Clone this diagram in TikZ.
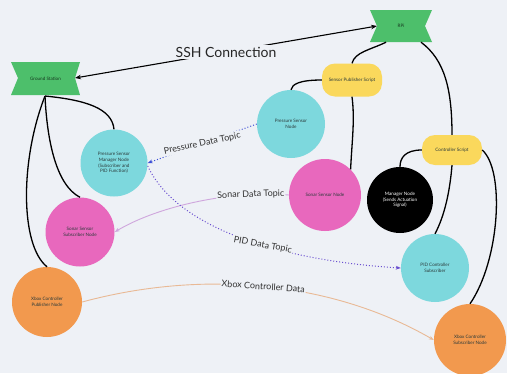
\documentclass[tikz,border=0pt]{standalone}
\usepackage{fontspec}
\setmainfont{Lato}
\usetikzlibrary{arrows.meta}
\definecolor{bg}{HTML}{EEF1F6}
\definecolor{bgreen}{HTML}{4DBF6B}
\definecolor{ccyan}{HTML}{7DD8DD}
\definecolor{cpink}{HTML}{E868BD}
\definecolor{corange}{HTML}{F2994E}
\definecolor{cyellow}{HTML}{FAD85C}
\definecolor{tblue}{HTML}{3C4FD6}
\definecolor{tlilac}{HTML}{CFA6DD}
\definecolor{tpurple}{HTML}{6A4FD0}
\definecolor{ttan}{HTML}{E9B995}
\definecolor{txt}{HTML}{2B3A3A}
\begin{document}
\begin{tikzpicture}[x=1pt,y=-1pt,
  tiny/.style={font=\fontsize{4.6}{5.6}\selectfont, text=txt, align=center},
  circnode/.style={circle, tiny, inner sep=1pt},
  scriptbox/.style={rounded corners=13pt, fill=cyellow, tiny, minimum height=32pt, minimum width=60pt, inner sep=1pt},
  bannertxt/.style={tiny, text=black!70!bgreen, minimum width=70pt, minimum height=32pt},
  blk/.style={line width=1.3pt, black},
  toplabel/.style={fill=bg, inner sep=1pt, font=\fontsize{9}{10}\selectfont, text=black!80},
]
\fill[bg] (0,0) rectangle (507,373);
\useasboundingbox (0,0) rectangle (507,373);

% banners
\fill[bgreen] (11,62) -- (80,62) -- (75,78) -- (80,95) -- (11,95) -- (18,78) -- cycle;
\node[bannertxt, minimum width=69pt, minimum height=33pt] (gs) at (45.5,78.5) {Ground Station};
\fill[bgreen] (370,10) -- (432,10) -- (425,26) -- (432,42) -- (370,42) -- (377,26) -- cycle;
\node[bannertxt, minimum width=62pt] (rpi) at (401,26) {RPi};

% scripts
\node[scriptbox, minimum width=60pt, minimum height=33pt] (sps) at (352,80) {Sensor Publisher Script};
\node[scriptbox, minimum width=60pt, minimum height=30pt] (cs) at (452,150) {Controller Script};

% circles
\node[circnode, fill=ccyan, minimum size=68pt] (psn) at (291,124) {Pressure Sensor\\Node};
\node[circnode, fill=ccyan, minimum size=67pt] (psm) at (114,163) {Pressure Sensor\\Manager Node\\(Subscriber and\\PID Function)};
\node[circnode, fill=black, text=white, minimum size=66pt] (mn) at (400,200) {Manager Node\\(Sends Actuation\\Signal)};
\node[circnode, fill=cpink, minimum size=72pt] (ssn) at (325,195) {Sonar Sensor Node};
\node[circnode, fill=cpink, minimum size=69pt] (sss) at (80,232) {Sonar Sensor\\Subscriber Node};
\node[circnode, fill=ccyan, minimum size=68pt] (pid) at (435,268) {PID Controller\\Subscriber};
\node[circnode, fill=corange, minimum size=70pt] (xbp) at (47,302) {Xbox Controller\\Publisher Node};
\node[circnode, fill=corange, minimum size=72pt] (xbs) at (470,340) {Xbox Controller\\Subscriber Node};

% black connectors
\draw[blk] ([xshift=-15pt]rpi.south) .. controls (370,50) and (355,52) .. (sps.north);
\draw[blk] ([xshift=20pt]rpi.south) .. controls (445,60) and (452,90) .. (cs.north);
\draw[blk] (sps.west) .. controls (300,80) and (292,84) .. (psn.north);
\draw[blk] (sps.south) .. controls (355,120) and (352,140) .. (ssn.north east);
\draw[blk] (cs.west) .. controls (405,150) and (400,158) .. (mn.north);
\draw[blk] (cs.south) .. controls (450,190) and (445,215) .. (pid.north);
\draw[blk] (cs.east) .. controls (505,170) and (500,260) .. (xbs.north);
\coordinate (gsb) at (45,96);
\draw[blk] (gsb) .. controls (85,100) and (112,108) .. (psm.north);
\draw[blk] (gsb) .. controls (47,140) and (56,185) .. (sss.north);
\draw[blk] (gsb) .. controls (20,160) and (20,245) .. (xbp.north);

% SSH
\draw[blk, line width=1.1pt, {Stealth[length=6pt]}-{Stealth[length=6pt]}] (75,78) coordinate (ge) -- node[fill=bg, inner sep=2pt, font=\fontsize{14}{16}\selectfont, text=black!85] {SSH Connection} (377,26) coordinate (re);

% topics
\draw[tblue, line width=1pt, dotted, -{Stealth[length=5pt]}] (psn.west) -- node[toplabel, rotate=12] {Pressure Data Topic} (psm.east);
\draw[tlilac, line width=0.9pt, -{Stealth[length=5pt]}] (ssn.west) .. controls (235,190) and (160,205) .. node[toplabel, pos=0.22, rotate=2] {Sonar Data Topic} (sss.east);
\draw[tpurple, line width=1pt, dotted, -{Stealth[length=5pt]}] ([yshift=-3pt]psm.east) .. controls (180,235) and (300,262) .. node[toplabel, pos=0.55, rotate=-10] {PID Data Topic} (pid.west);
\draw[ttan, line width=0.9pt, -{Stealth[length=5pt]}] (xbp.east) .. controls (200,270) and (330,280) .. node[toplabel, rotate=-4] {Xbox Controller Data} (xbs.west);
\end{tikzpicture}
\end{document}
